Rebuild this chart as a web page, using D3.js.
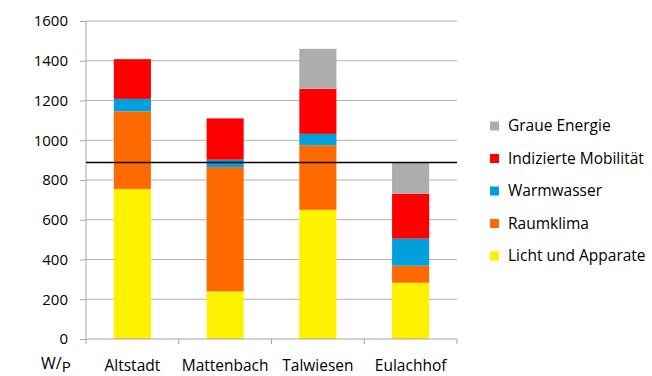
<!DOCTYPE html>
<html>
<head>
<meta charset="utf-8">
<script src="https://cdn.jsdelivr.net/npm/d3@7"></script>
<style>
  body { margin: 0; background: #fff; }
  svg text { font-family: "Open Sans", sans-serif; fill: #000; }
</style>
</head>
<body>
<svg id="chart" width="652" height="376"></svg>
<script>
const categories = ["Altstadt", "Mattenbach", "Talwiesen", "Eulachhof"];
const seriesNames = ["Licht und Apparate", "Raumklima", "Warmwasser", "Indizierte Mobilität", "Graue Energie"];
const licht = [755, 240, 650, 283];
const raumklima = [390, 625, 325, 86];
const warmwasser = [63, 37, 57, 136];
const mobilitaet = [200, 208, 227, 226];
const graue = [0, 0, 201, 158];
const yTicks = [0, 200, 400, 600, 800, 1000, 1200, 1400, 1600];
const targetLine = 888;

const colors = ["#fff200", "#ff6a00", "#00a0dc", "#ff0000", "#adadad"];
const w = 652;
const h = 376;

const svg = d3.select('#chart');

const rows = categories.map((c, i) => ({
  cat: c,
  "Licht und Apparate": licht[i],
  "Raumklima": raumklima[i],
  "Warmwasser": warmwasser[i],
  "Indizierte Mobilität": mobilitaet[i],
  "Graue Energie": graue[i]
}));

const stacked = d3.stack().keys(seriesNames)(rows);

const xScale = d3.scaleBand()
  .domain(categories)
  .range([86, 457])
  .paddingInner(0.6)
  .paddingOuter(0.3);

const yScale = d3.scaleLinear()
  .domain([0, 1600])
  .range([339, 21]);

// gridlines
svg.append('g')
  .selectAll('line')
  .data(yTicks.slice(1))
  .enter()
  .append('line')
  .attr('x1', 86)
  .attr('x2', 457)
  .attr('y1', d => yScale(d))
  .attr('y2', d => yScale(d))
  .attr('stroke', '#b3b3b3')
  .attr('stroke-width', 1);

// y axis
const yAxis = d3.axisLeft(yScale).tickValues(yTicks).tickFormat(d3.format('d')).tickSize(6).tickPadding(12);
const yg = svg.append('g')
  .attr('transform', 'translate(86, 0)')
  .call(yAxis);
yg.selectAll('line, path').attr('stroke', '#a6a6a6');
yg.select('.domain').attr('d', 'M0,21V339');
yg.selectAll('text').style('font-size', '15px').style('font-family', '"Open Sans", sans-serif');

// stacked bars
svg.append('g')
  .selectAll('g')
  .data(stacked)
  .enter()
  .append('g')
  .attr('fill', (d, i) => colors[i])
  .selectAll('rect')
  .data(d => d)
  .enter()
  .append('rect')
  .attr('x', d => xScale(d.data.cat))
  .attr('width', xScale.bandwidth())
  .attr('y', d => yScale(d[1]))
  .attr('height', d => yScale(d[0]) - yScale(d[1]));

// x axis
const xAxis = d3.axisBottom(xScale).tickSize(0).tickPadding(21);
const xg = svg.append('g')
  .attr('transform', 'translate(0, 339)')
  .call(xAxis);
xg.select('.domain').attr('stroke', '#a6a6a6').attr('d', 'M86,0H457');
xg.selectAll('text').style('font-size', '15.5px').style('font-family', '"Open Sans", sans-serif');

const bounds = d3.range(categories.length + 1).map(i => 86 + i * (457 - 86) / categories.length);
xg.selectAll('.sep')
  .data(bounds)
  .enter()
  .append('line')
  .attr('class', 'sep')
  .attr('x1', d => d)
  .attr('x2', d => d)
  .attr('y1', 0)
  .attr('y2', 5)
  .attr('stroke', '#a6a6a6');

// reference line
svg.append('line')
  .attr('x1', 86)
  .attr('x2', 457)
  .attr('y1', yScale(targetLine))
  .attr('y2', yScale(targetLine))
  .attr('stroke', '#000')
  .attr('stroke-width', 1.6);

// unit label
const unit = svg.append('text')
  .attr('x', 41)
  .attr('y', 369)
  .style('font-size', '16px');
unit.append('tspan').text('W/');
unit.append('tspan').attr('dy', 3).style('font-size', '15px').text('P');

// legend
const legendItems = seriesNames.slice().reverse();
const legendColors = colors.slice().reverse();
const legend = svg.append('g')
  .selectAll('g')
  .data(legendItems)
  .enter()
  .append('g')
  .attr('transform', (d, i) => `translate(490, ${126 + i * 32.5})`);

legend.append('rect')
  .attr('x', 0)
  .attr('y', -4.5)
  .attr('width', 9)
  .attr('height', 9)
  .attr('fill', (d, i) => legendColors[i]);

legend.append('text')
  .attr('x', 18)
  .attr('y', 0)
  .attr('dy', '0.35em')
  .style('font-size', '15.5px')
  .text(d => d);
</script>
</body>
</html>
